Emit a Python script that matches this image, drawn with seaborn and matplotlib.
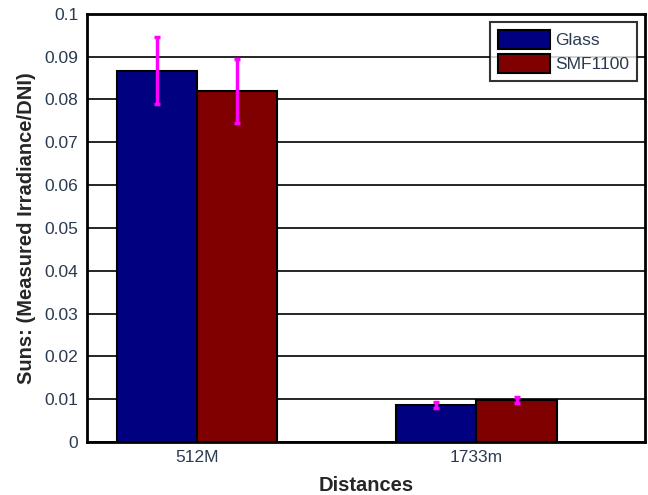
import pandas as pd
import numpy as np
import seaborn as sns
import matplotlib.pyplot as plt

# values
distances = ['512M', '1733m']
materials = ['Glass', 'SMF1100']
glass = [0.0867, 0.0086]
smf1100 = [0.0820, 0.0098]
glass_err = [0.0078, 0.0007]
smf1100_err = [0.0075, 0.0008]

df = pd.DataFrame({
    'Distance': distances * 2,
    'Material': ['Glass'] * 2 + ['SMF1100'] * 2,
    'Suns': glass + smf1100,
    'err': glass_err + smf1100_err,
})

sns.set_style('white')
plt.rcParams['font.family'] = ['Liberation Sans', 'DejaVu Sans']

fig = plt.figure(figsize=(6.48, 4.95), dpi=100)
ax = fig.add_axes([0.134, 0.107, 0.861, 0.865])

ax.set_axisbelow(True)
ax.yaxis.grid(True, color='black', linewidth=1.2)

sns.barplot(data=df, x='Distance', y='Suns', hue='Material', order=distances,
            hue_order=materials, palette=['#000080', '#800000'],
            width=0.573, gap=0, errorbar=None, edgecolor='black',
            linewidth=1.5, saturation=1, ax=ax)

# magenta error bars at the centre of each bar
for patch, (mat, dist) in zip(ax.patches, [(m, d) for m in materials for d in distances]):
    row = df[(df.Material == mat) & (df.Distance == dist)].iloc[0]
    xc = patch.get_x() + patch.get_width() / 2
    ax.errorbar(xc, row.Suns, yerr=row.err, color='#ff00ff', linewidth=2.5,
                capsize=2.5, capthick=2.5, zorder=5)

ax.set_xlim(-0.394, 1.602)
ax.set_ylim(0, 0.1)
ax.set_yticks(np.arange(0, 0.101, 0.01))
ax.set_yticklabels(['0'] + ['%g' % v for v in np.round(np.arange(0.01, 0.101, 0.01), 2)])
ax.tick_params(axis='both', colors='#2a3a50', labelsize=12.5, length=0, pad=6)
ax.tick_params(axis='y', length=5, direction='in', color='black', width=1.5)

for s in ax.spines.values():
    s.set_visible(True)
    s.set_color('black')
    s.set_linewidth(2)

ax.set_xlabel('Distances', fontsize=14.5, fontweight='bold', labelpad=8)
ax.set_ylabel('Suns: (Measured Irradiance/DNI)', fontsize=14.5, fontweight='bold', labelpad=6)

leg = ax.legend(loc='upper right', fontsize=12.5, frameon=True, fancybox=False,
                edgecolor='black', handlelength=3.0, handleheight=1.3,
                borderpad=0.45, labelspacing=0.3, handletextpad=0.3,
                borderaxespad=0, bbox_to_anchor=(0.986, 0.981))
leg.get_frame().set_linewidth(1.5)
for t in leg.get_texts():
    t.set_color('#2a3a50')

plt.savefig('out.png', dpi=100)
